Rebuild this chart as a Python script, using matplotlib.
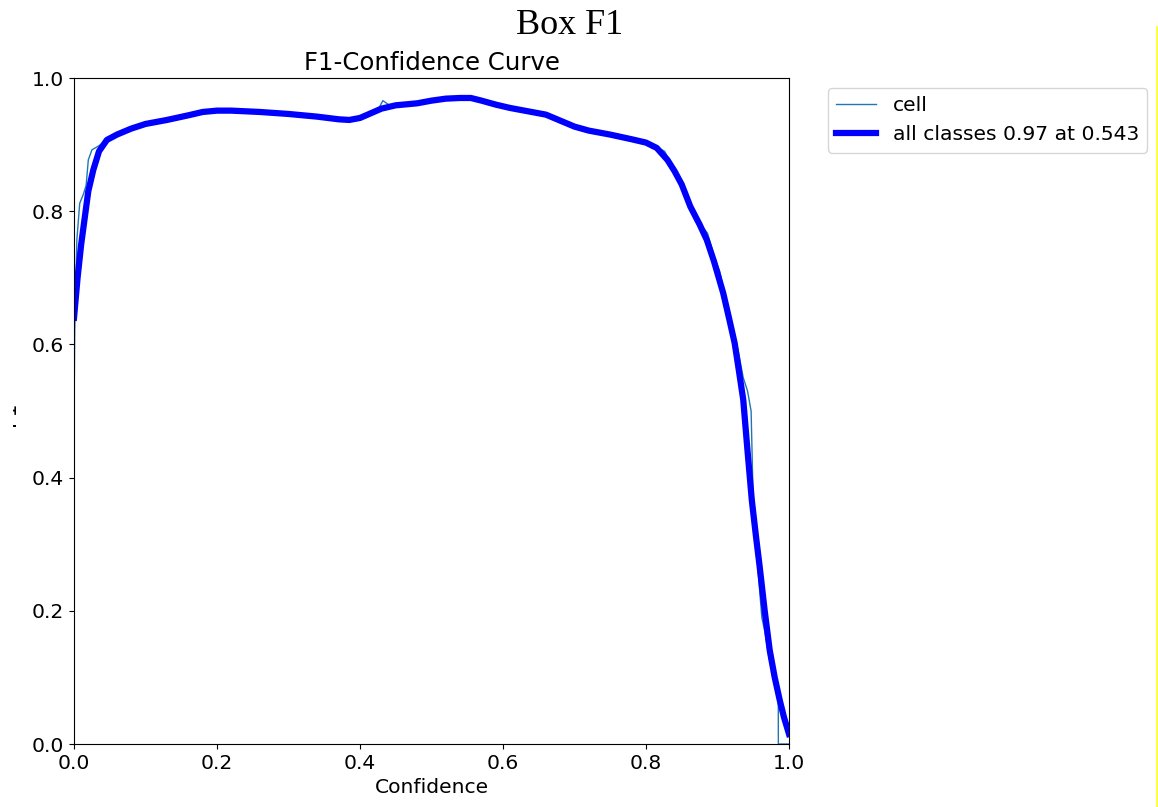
import matplotlib
matplotlib.use('Agg')
import matplotlib.pyplot as plt
from matplotlib.lines import Line2D
from matplotlib.patches import Rectangle

# values
conf_all = [0.0, 0.005, 0.01, 0.015, 0.02, 0.027, 0.035, 0.046, 0.06, 0.08,
            0.1, 0.13, 0.16, 0.18, 0.2, 0.22, 0.26, 0.3, 0.34, 0.37, 0.385,
            0.4, 0.415, 0.43, 0.45, 0.48, 0.5, 0.52, 0.54, 0.555, 0.57, 0.59,
            0.61, 0.63, 0.66, 0.68, 0.7, 0.72, 0.75, 0.78, 0.8, 0.815, 0.83,
            0.84, 0.85, 0.862, 0.875, 0.885, 0.895, 0.908, 0.916, 0.924, 0.93,
            0.936, 0.942, 0.948, 0.954, 0.959, 0.966, 0.973, 0.98, 0.987, 0.993, 1.0]
f1_all = [0.64, 0.70, 0.75, 0.79, 0.83, 0.862, 0.89, 0.907, 0.915, 0.924,
          0.931, 0.937, 0.944, 0.949, 0.951, 0.951, 0.949, 0.946, 0.942, 0.938, 0.937,
          0.94, 0.947, 0.954, 0.959, 0.962, 0.966, 0.969, 0.970, 0.970, 0.966, 0.96,
          0.955, 0.951, 0.945, 0.936, 0.927, 0.921, 0.915, 0.908, 0.903, 0.895, 0.877,
          0.86, 0.84, 0.807, 0.78, 0.757, 0.725, 0.677, 0.64, 0.602, 0.56,
          0.517, 0.44, 0.366, 0.31, 0.266, 0.20, 0.141, 0.10, 0.066, 0.04, 0.015]

conf_cell = [0.0, 0.001, 0.004, 0.008, 0.013, 0.017, 0.02, 0.025, 0.036, 0.046,
             0.06, 0.08, 0.1, 0.13, 0.16, 0.19, 0.22, 0.26, 0.3, 0.34,
             0.37, 0.39, 0.41, 0.425, 0.432, 0.44, 0.45, 0.48, 0.5, 0.52,
             0.543, 0.56, 0.58, 0.6, 0.63, 0.66, 0.68, 0.7, 0.72, 0.75,
             0.78, 0.8, 0.815, 0.826, 0.84, 0.85, 0.862, 0.868, 0.88, 0.886,
             0.895, 0.903, 0.916, 0.929, 0.936, 0.942, 0.947, 0.95, 0.954, 0.959,
             0.962, 0.966, 0.972, 0.98, 0.985, 0.9851, 1.0]
f1_cell = [0.48, 0.62, 0.757, 0.812, 0.825, 0.839, 0.877, 0.892, 0.899, 0.907,
           0.915, 0.924, 0.931, 0.937, 0.945, 0.951, 0.951, 0.949, 0.946, 0.942,
           0.938, 0.938, 0.944, 0.952, 0.966, 0.960, 0.959, 0.962, 0.966, 0.969,
           0.970, 0.969, 0.962, 0.956, 0.951, 0.945, 0.935, 0.927, 0.921, 0.915,
           0.908, 0.903, 0.896, 0.890, 0.862, 0.842, 0.81, 0.79, 0.775, 0.767,
           0.733, 0.71, 0.645, 0.59, 0.55, 0.53, 0.50, 0.36, 0.30, 0.23,
           0.19, 0.17, 0.13, 0.09, 0.065, 0.0, 0.0]

fig = plt.figure(figsize=(11.58, 8.07), dpi=100)
ax = fig.add_axes([74/1158, 1-744/807, 715/1158, 666/807])

fs = 14.6
ax.plot(conf_cell, f1_cell, linewidth=1, color='#1f77b4', label='cell')
ax.plot(conf_all, f1_all, linewidth=4.5, color='blue', label='all classes 0.97 at 0.543')
ax.set_xlim(0, 1)
ax.set_ylim(0, 1)
ax.tick_params(labelsize=fs)
ax.set_xlabel('Confidence', fontsize=fs)
ax.set_title('F1-Confidence Curve', fontsize=fs*1.2)
ax.legend(bbox_to_anchor=(1.04, 1), loc='upper left', fontsize=fs)

# y label is cut off in the reference, only its edge shows
fig.text(19/1158, 1-414/807, 'F1', rotation=90, ha='right', va='center', fontsize=fs)
fig.patches.append(Rectangle((0, 0), 12.5/1158, 1, transform=fig.transFigure,
                             facecolor='white', edgecolor='none', zorder=5))

fig.text(570/1158, 1-25/807, 'Box F1', ha='center', va='center',
         fontsize=26, family='Liberation Serif')
fig.lines.append(Line2D([1157/1158, 1157/1158], [0, 1-27/807], transform=fig.transFigure,
                        color='#ffff20', linewidth=1.2))

fig.savefig('out.png')
